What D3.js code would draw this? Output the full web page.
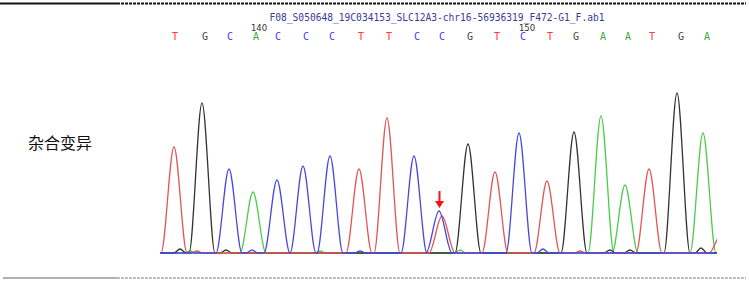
<!DOCTYPE html>
<html>
<head>
<meta charset="utf-8">
<script src="https://cdn.jsdelivr.net/npm/d3@7"></script>
<style>
  body { margin: 0; background: #fff; }
  svg { display: block; }
</style>
</head>
<body>
<div id="chart"></div>
<script>
/********** Data **********/
var fileName = "F08_S050648_19C034153_SLC12A3-chr16-56936319_F472-G1_F.ab1"
var bases = ["T","G","C","A","C","C","C","T","T","C","C","G","T","C","T","G","A","A","T","G","A"]
var basePos = [15, 45, 70, 96, 118, 146, 172, 201, 229, 257, 282, 310, 337, 363, 390, 416, 443, 468, 492, 521, 547]
var tickLabels = ["140", "150"]
var tickPos = [99, 367]

// peaks per channel: scan position and signal height
var peaksT = [[14,106],[199,84],[227,135],[282,37],[335,81],[387,72],[489,84],[562,20],[37,2],[420,2]]
var peaksG = [[42,150],[308,109],[414,121],[517,160],[20,4],[66,3],[450,3],[470,3],[541,5]]
var peaksC = [[69,84],[117,73],[143,87],[170,97],[254,97],[279,42],[359,120],[92,3],[383,4],[200,2]]
var peaksA = [[93,61],[441,137],[465,68],[543,120],[300,3],[30,2],[160,2]]
var mutationPos = 279 // heterozygous site
var sideLabel = "杂合变异"

/********** Layout **********/
var W = 749, H = 281
var svg = d3.select("#chart").append("svg")
  .attr("width", W).attr("height", H)

var x = d3.scaleLinear().domain([0, 557]).range([160, 717])
var y = d3.scaleLinear().domain([0, 160]).range([253, 93])

var colors = {T: "#e05555", G: "#333333", C: "#4848dd", A: "#4ccc4c"}
var letterColors = {T: "#ff3b3b", G: "#444444", C: "#3b3bff", A: "#3aaa3a"}

// frame lines
svg.append("line").attr("x1", 0).attr("x2", 117).attr("y1", 3.5).attr("y2", 3.5)
  .attr("stroke", "#111").attr("stroke-width", 2.2)
svg.append("line").attr("x1", 117).attr("x2", 746).attr("y1", 3.5).attr("y2", 3.5)
  .attr("stroke", "#111").attr("stroke-width", 2.2).attr("stroke-dasharray", "3,1")
svg.append("line").attr("x1", 3).attr("x2", 117).attr("y1", 278).attr("y2", 278)
  .attr("stroke", "#999").attr("stroke-width", 1.5)
svg.append("line").attr("x1", 117).attr("x2", 746).attr("y1", 278).attr("y2", 278)
  .attr("stroke", "#aaa").attr("stroke-width", 1.5).attr("stroke-dasharray", "3,1")

// title
svg.append("text")
  .attr("x", 437).attr("y", 21)
  .attr("text-anchor", "middle")
  .style("font-family", "DejaVu Sans Mono, monospace")
  .style("font-size", "9.6px")
  .attr("fill", "#3a3a9a")
  .text(fileName)

// position ticks
svg.selectAll(".tick").data(tickLabels).enter().append("text")
  .attr("x", function(d, i) { return x(tickPos[i]) })
  .attr("y", 31)
  .attr("text-anchor", "middle")
  .style("font-family", "DejaVu Sans, sans-serif")
  .style("font-size", "8.5px")
  .attr("fill", "#333")
  .text(function(d) { return d })

// base calls
svg.selectAll(".base").data(bases).enter().append("text")
  .attr("x", function(d, i) { return x(basePos[i]) })
  .attr("y", 40)
  .attr("text-anchor", "middle")
  .style("font-family", "DejaVu Sans Mono, monospace")
  .style("font-size", "10px")
  .attr("fill", function(d) { return letterColors[d] })
  .text(function(d) { return d })

// side label
svg.append("text")
  .attr("x", 28).attr("y", 149)
  .style("font-family", "Noto Sans CJK SC, sans-serif")
  .style("font-size", "16px")
  .attr("fill", "#111")
  .text(sideLabel)

// traces
svg.append("clipPath").attr("id", "clip")
  .append("rect").attr("x", 160).attr("y", 60).attr("width", 557).attr("height", 200)

function tracePoints(peaks) {
  var pts = [[0, 0]]
  peaks.slice().sort(function(a, b) { return a[0] - b[0] }).forEach(function(p) {
    var w = p[1] > 10 ? 13 : 6
    pts.push([p[0] - w, 0], [p[0], p[1]], [p[0] + w, 0])
  })
  pts.push([580, 0])
  return pts
}

var line = d3.line()
  .x(function(d) { return x(d[0]) })
  .y(function(d) { return y(d[1]) })
  .curve(d3.curveMonotoneX)

var g = svg.append("g").attr("clip-path", "url(#clip)")
var channels = [["A", peaksA], ["G", peaksG], ["T", peaksT], ["C", peaksC]]
channels.forEach(function(c) {
  g.append("path")
    .datum(tracePoints(c[1]))
    .attr("fill", "none")
    .attr("stroke", colors[c[0]])
    .attr("stroke-width", 1.3)
    .attr("d", line)
})

// arrow at heterozygous site
var ax = x(mutationPos) + 0.5
svg.append("line").attr("x1", ax).attr("x2", ax).attr("y1", 191).attr("y2", 203)
  .attr("stroke", "#ff1010").attr("stroke-width", 2)
svg.append("path")
  .attr("d", "M" + (ax - 4.5) + ",201 L" + (ax + 4.5) + ",201 L" + ax + ",208 Z")
  .attr("fill", "#ff1010")
</script>
</body>
</html>
